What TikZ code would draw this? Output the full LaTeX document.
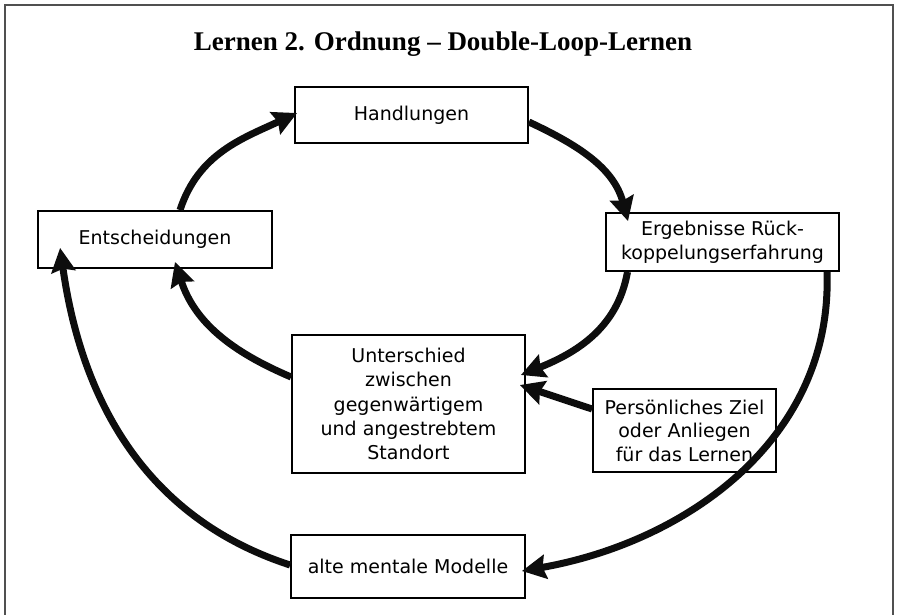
\documentclass[tikz,border=0pt]{standalone}
\usepackage{fontspec}
\setmainfont{DejaVu Sans}
\newfontfamily\titlefont{Liberation Serif}
\usetikzlibrary{arrows.meta}
\definecolor{framegray}{HTML}{505050}
\tikzset{
  box/.style={draw=black, line width=1.8pt, fill=white, rectangle, align=center,
    inner sep=0pt, font=\fontsize{19}{24.3}\selectfont},
  flow/.style={line width=7pt, draw=black!95,
    -{Stealth[length=24pt,width=24pt,inset=3pt]}},
}
\begin{document}
\begin{tikzpicture}[x=1pt,y=1pt]
  \useasboundingbox (0,0) rectangle (897,-614);
  % outer frame, open at the bottom edge
  \draw[framegray, line width=2pt] (5,-630) -- (5,-5) -- (893,-5) -- (893,-630);

  \node[font=\titlefont\bfseries\fontsize{27}{30}\selectfont] (title) at (443,-44)
    {Lernen 2. Ordnung – Double-Loop-Lernen};

  \node[box, minimum width=233pt, minimum height=56pt] (hand) at (411.5,-115) {Handlungen};
  \node[box, minimum width=234pt, minimum height=57pt] (ents) at (155,-239.5) {Entscheidungen};
  \node[box, minimum width=233pt, minimum height=58pt] (erg) at (722.5,-242)
    {Ergebnisse Rück-\\koppelungserfahrung};
  \node[box, minimum width=233pt, minimum height=138pt] (unt) at (408.5,-404)
    {Unterschied\\zwischen\\gegenwärtigem\\und angestrebtem\\Standort};
  \node[box, minimum width=183pt, minimum height=83pt,
    font=\fontsize{19}{23.5}\selectfont] (pers) at (684.5,-430.5)
    {Persönliches Ziel\\oder Anliegen\\für das Lernen};
  \node[box, minimum width=234pt, minimum height=63pt] (alte) at (408,-566.5)
    {alte mentale Modelle};

  % single loop
  \draw[flow] ([xshift=25pt]ents.north) to[out=72, in=-155] ([shift={(3pt,2pt)}]hand.west);
  \draw[flow] ([yshift=-7pt]hand.east) to[out=-25, in=105] ([shift={(-94.5pt,-9pt)}]erg.north);
  \draw[flow] ([xshift=-95pt]erg.south) to[out=-100, in=22] ([shift={(-5pt,29pt)}]unt.east);
  \draw[flow] ([yshift=27pt]unt.west) to[out=157, in=-72] ([shift={(20pt,7pt)}]ents.south);
  \draw[flow] ([yshift=21.5pt]pers.west) -- ([shift={(-6pt,19pt)}]unt.east);
  % double loop
  \draw[flow] ([xshift=104.5pt]erg.south) to[out=-88, in=10] ([shift={(-4pt,-4.5pt)}]alte.east);
  \draw[flow] ([yshift=1.5pt]alte.west) to[out=162, in=-82] ([shift={(23pt,21pt)}]ents.south west);
\end{tikzpicture}
\end{document}
